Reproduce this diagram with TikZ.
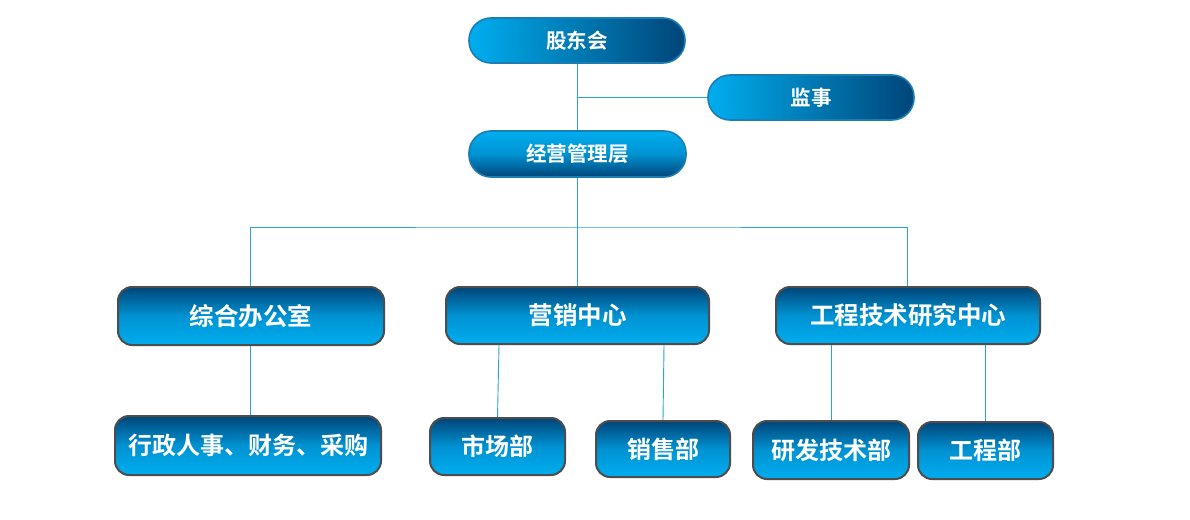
\documentclass[tikz,border=0pt]{standalone}
\usepackage{fontspec}
\setmainfont{Noto Sans CJK SC}[BoldFont={Noto Sans CJK SC Bold}]
\usetikzlibrary{calc}
\definecolor{lightb}{HTML}{00AEEF}
\definecolor{midb}{HTML}{0092D2}
\definecolor{darkb}{HTML}{004578}
\definecolor{pillborder}{HTML}{1B7DB3}
\definecolor{boxborder}{HTML}{4D4D4D}
\definecolor{linkc}{HTML}{2AA3DC}
\tikzset{
  pill/.style={draw=pillborder, line width=1.6pt, rounded corners=22pt,
    text=white, font=\bfseries\fontsize{20.5}{23}\selectfont, inner sep=0pt},
  hpill/.style={pill, left color=lightb, right color=darkb},
  vpill/.style={pill, top color=lightb, bottom color=darkb, middle color=midb},
  box/.style={draw=boxborder, line width=2pt, rounded corners=14pt,
    text=white, font=\bfseries\fontsize{24.5}{27}\selectfont, inner sep=0pt,
    top color=darkb, bottom color=lightb, middle color=midb},
  sbox/.style={box, font=\bfseries\fontsize{24}{27}\selectfont},
  link/.style={draw=linkc, line width=0.9pt}
}
\begin{document}
\begin{tikzpicture}[x=1pt,y=-1pt]
\useasboundingbox[fill=white] (0,0) rectangle (1190,519);
\coordinate (j1) at (577,97.5);
\coordinate (j2) at (577,227);
% nodes
\node[hpill, minimum width=216pt, minimum height=45pt] (gd) at (577,40.5) {股东会};
\node[hpill, minimum width=206pt, minimum height=45pt] (js) at (811,97.5) {监事};
\node[vpill, minimum width=217pt, minimum height=46pt] (jy) at (577.5,154) {经营管理层};
\node[box, minimum width=266pt, minimum height=58pt] (zh) at (251,316) {综合办公室};
\node[box, minimum width=263pt, minimum height=57pt] (yx) at (577.5,315.5) {营销中心};
\node[box, minimum width=264pt, minimum height=57pt] (gc) at (908,315.5) {工程技术研究中心};
\node[sbox, minimum width=266pt, minimum height=59pt] (xz) at (248,445.5) {行政人事、财务、采购};
\node[sbox, minimum width=135pt, minimum height=57pt] (sc) at (497.5,446.5) {市场部};
\node[sbox, minimum width=134pt, minimum height=56pt] (xs) at (663,449) {销售部};
\node[sbox, minimum width=156pt, minimum height=58pt] (yf) at (831,450) {研发技术部};
\node[sbox, minimum width=135pt, minimum height=57pt] (gcb) at (985.5,450.5) {工程部};
% links
\path[link] (gd.south -| j1) -- (jy.north -| j1);
\path[link] (j1) -- (js.west);
\path[link] (jy.south -| j2) -- (yx.north -| j2);
\path[link] (zh.north -| 250,0) |- (j2) -| (gc.north -| 907,0);
\path[link] (zh.south -| 250,0) -- (xz.north -| 250,0);
\path[link] (yx.south -| 499,0) -- (sc.north);
\path[link] (yx.south -| 664,0) -- (xs.north);
\path[link] (gc.south -| yf.north) -- (yf.north);
\path[link] (gc.south -| gcb.north) -- (gcb.north);
\end{tikzpicture}
\end{document}
